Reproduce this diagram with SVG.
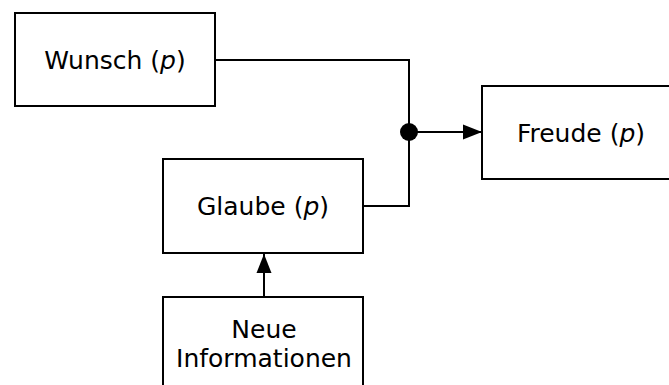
<svg xmlns="http://www.w3.org/2000/svg" width="669" height="385" viewBox="0 0 669 385">
  <style>
    .box { fill: #ffffff; stroke: #000000; stroke-width: 2; }
    .lbl { font-family: "DejaVu Sans", Verdana, sans-serif; font-size: 25px; fill: #000000; text-anchor: middle; }
    .it { font-style: italic; }
    .conn { fill: none; stroke: #000000; stroke-width: 2; }
  </style>
  <defs>
    <marker id="arrow" markerUnits="userSpaceOnUse" markerWidth="20" markerHeight="16" refX="19" refY="8" orient="auto">
      <path d="M0,0.5 L19,8 L0,15.5 Z" fill="#000000"/>
    </marker>
  </defs>
  <rect width="669" height="385" fill="#ffffff"/>
  <g id="wunsch">
    <rect class="box" x="15" y="13" width="200" height="93"/>
    <text class="lbl" x="115" y="69">Wunsch (<tspan class="it">p</tspan>)</text>
  </g>
  <g id="glaube">
    <rect class="box" x="163" y="159" width="200" height="94"/>
    <text class="lbl" x="263" y="215">Glaube (<tspan class="it">p</tspan>)</text>
  </g>
  <g id="freude">
    <rect class="box" x="482" y="86" width="200" height="93"/>
    <text class="lbl" x="581" y="142">Freude (<tspan class="it">p</tspan>)</text>
  </g>
  <g id="neue">
    <rect class="box" x="163" y="297" width="200" height="110"/>
    <text class="lbl" x="264" y="338">Neue</text>
    <text class="lbl" x="264" y="367">Informationen</text>
  </g>
  <g id="connectors">
    <path class="conn" d="M215,60 H409 V132"/>
    <path class="conn" d="M363,206 H409 V132"/>
    <circle cx="409" cy="132" r="9" fill="#000000"/>
    <line class="conn" x1="409" y1="132" x2="482" y2="132" marker-end="url(#arrow)"/>
    <line class="conn" x1="264" y1="297" x2="264" y2="254" marker-end="url(#arrow)"/>
  </g>
</svg>
